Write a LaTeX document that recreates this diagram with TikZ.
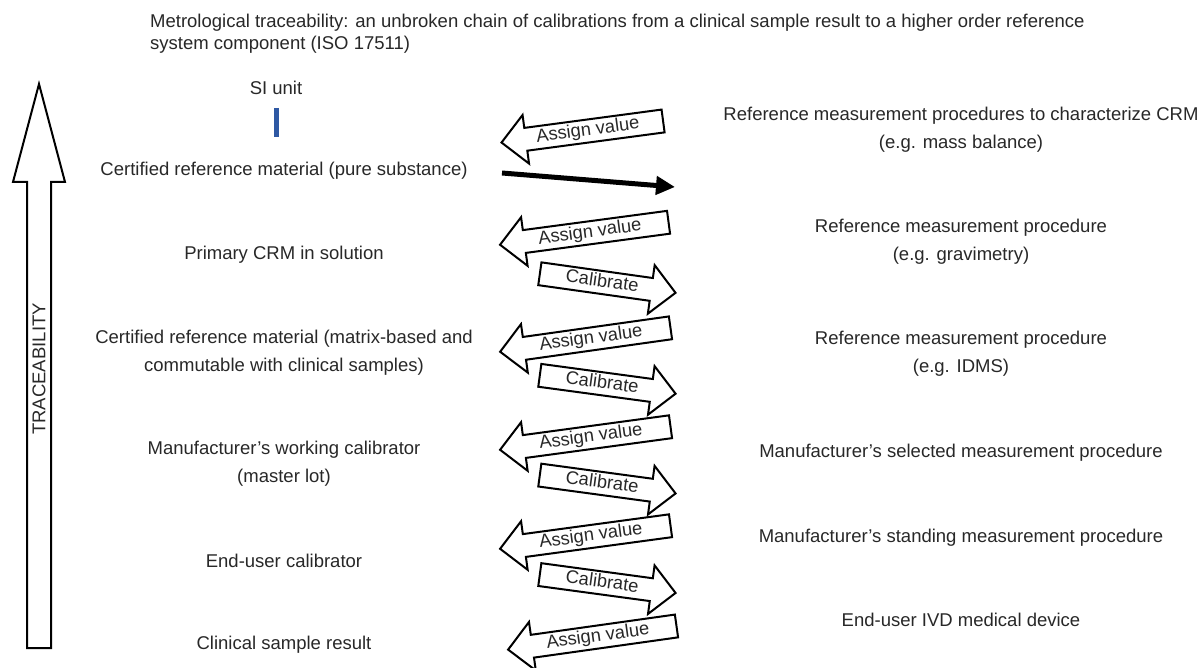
\documentclass[tikz,border=0pt]{standalone}
\usepackage{fontspec}
\setmainfont{Liberation Sans}
\usetikzlibrary{shapes.arrows,arrows.meta}
\definecolor{textgray}{RGB}{40,40,40}
\definecolor{barblue}{RGB}{46,88,163}
\begin{document}
\begin{tikzpicture}[x=1pt,y=-1pt,
  lbl/.style={font=\fontsize{18.5}{28}\selectfont, text=textgray, align=center, inner sep=0pt},
  blockarrow/.style={single arrow, draw=black, line width=2pt, fill=white,
    font=\fontsize{18.3}{22}\selectfont, text=textgray,
    inner xsep=2pt, inner ysep=2pt, text height=13pt, text depth=4pt,
    single arrow head extend=13pt, single arrow head indent=0pt,
    single arrow tip angle=90},
  assignarrow/.style={blockarrow, shape border rotate=180},
  calarrow/.style={blockarrow},
]
\useasboundingbox (0,0) rectangle (1203,668);
\fill[white] (0,0) rectangle (1203,668);

% title
\node[anchor=west, align=left, inner sep=0pt, text=textgray,
      font=\fontsize{18.5}{21.5}\selectfont] (title) at (150,33.5)
  {Metrological traceability: an unbroken chain of calibrations from a clinical sample result to a higher order reference\\system component (ISO 17511)};

% traceability arrow
\coordinate (tb1) at (27,648);
\coordinate (tb2) at (51,648);
\coordinate (ttip) at (39,84);
\draw[line width=2pt, fill=white] (tb1) -- (27,182) -- (13,182) -- (ttip)
  -- (65,182) -- (51,182) -- (tb2) -- cycle;
\node[rotate=90, font=\fontsize{18.5}{22}\selectfont, text=textgray, inner sep=0pt]
  (trace) at (39,369) {TRACEABILITY};

% left column
\node[lbl] (si) at (276,88) {SI unit};
\node[lbl] (crm) at (284,171) {Certified reference material (pure substance)};
\node[lbl] (prim) at (284,255) {Primary CRM in solution};
\node[lbl] (matrix) at (284,352.5) {Certified reference material (matrix-based and\\commutable with clinical samples)};
\node[lbl] (manu) at (284,464) {Manufacturer’s working calibrator\\(master lot)};
\node[lbl] (enduser) at (284,561) {End-user calibrator};
\node[lbl] (clin) at (284,645) {Clinical sample result};

% right column
\node[lbl] (r1) at (961,129.5) {Reference measurement procedures to characterize CRM\\(e.g. mass balance)};
\node[lbl] (r2) at (961,241.5) {Reference measurement procedure\\(e.g. gravimetry)};
\node[lbl] (r3) at (961,353.5) {Reference measurement procedure\\(e.g. IDMS)};
\node[lbl] (r4) at (961,452.5) {Manufacturer’s selected measurement procedure};
\node[lbl] (r5) at (961,537.5) {Manufacturer’s standing measurement procedure};
\node[lbl] (r6) at (961,619.5) {End-user IVD medical device};

% blue bar
\coordinate (bt) at (276,108);
\coordinate (bb) at (276,137);
\draw[barblue, line width=5pt] (bt) -- (bb);

% black arrow
\coordinate (bs) at (502,173);
\coordinate (be) at (675,187);
\draw[line width=5pt, -{Triangle[length=19pt,width=18pt]}] (bs) -- (be);

% assign value arrows
\node[assignarrow, rotate=7.6, minimum height=163pt] (a1) at (588,131) {Assign value};
\node[assignarrow, rotate=7.6, minimum height=170pt] (a2) at (590,232.75) {Assign value};
\node[assignarrow, rotate=8, minimum height=172pt] (a3) at (591,339) {Assign value};
\node[assignarrow, rotate=7.7, minimum height=172pt] (a4) at (591,437.5) {Assign value};
\node[assignarrow, rotate=7.7, minimum height=172pt] (a5) at (591,536.5) {Assign value};
\node[assignarrow, rotate=8, minimum height=170pt] (a6) at (598,637) {Assign value};

% calibrate arrows
\node[calarrow, rotate=-8, minimum height=137pt] (c1) at (602,282.5) {Calibrate};
\node[calarrow, rotate=-7.7, minimum height=137pt] (c2) at (602,383.75) {Calibrate};
\node[calarrow, rotate=-7.7, minimum height=137pt] (c3) at (602,483.5) {Calibrate};
\node[calarrow, rotate=-7.7, minimum height=137pt] (c4) at (602,583) {Calibrate};
\end{tikzpicture}
\end{document}
